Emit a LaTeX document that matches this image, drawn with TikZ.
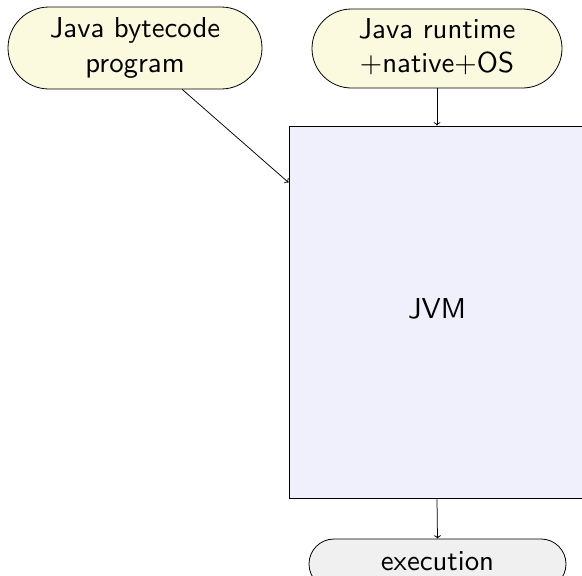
\documentclass[tikz,border=0pt]{standalone}
\usepackage{graphicx}
\usetikzlibrary{arrows.meta}
\definecolor{termfill}{RGB}{252,250,222}
\definecolor{procfill}{RGB}{240,240,252}
\definecolor{endfill}{RGB}{240,240,240}
% labels are set at 10pt and magnified, keeping the 10pt letter shapes
\newcommand{\biglabel}[1]{\scalebox{2.88}{\begin{tabular}{@{}c@{}}#1\end{tabular}}}
\begin{document}
\begin{tikzpicture}[x=1pt,y=-1pt,
  every node/.style={font=\fontsize{10}{12}\selectfont\sffamily, inner sep=0pt},
  terminal/.style={draw, line width=0.8pt, fill=termfill, rectangle},
  process/.style={draw, line width=1pt, fill=procfill, rectangle},
  endterm/.style={draw, line width=0.8pt, fill=endfill, rectangle},
  flow/.style={->, line width=0.75pt}]
  \useasboundingbox (0,0) rectangle (582,576);
  \clip (0,0) rectangle (582,576);

  % processor block
  \node[process, minimum width=296pt, minimum height=372pt] (jvm) at (437,312) {\biglabel{JVM}};

  % inputs
  \node[terminal, minimum width=254pt, minimum height=82pt, rounded corners=41pt]
    (code) at (135,48) {\biglabel{Java bytecode\\program}};
  \node[terminal, minimum width=250pt, minimum height=79pt, rounded corners=39.5pt]
    (rt) at (437,48.5) {\biglabel{Java runtime\\$+$native$+$OS}};

  % output
  \node[endterm, minimum width=257pt, minimum height=50pt, rounded corners=25pt]
    (exec) at (437.5,564) {\biglabel{execution}};

  % connectors
  \coordinate (codein) at ([yshift=-57pt]jvm.north west);
  \draw[flow] (code) -- (codein);
  \draw[flow] (rt.south) -- (jvm.north);
  \draw[flow] (jvm.south) -- (exec.north);
\end{tikzpicture}
\end{document}
